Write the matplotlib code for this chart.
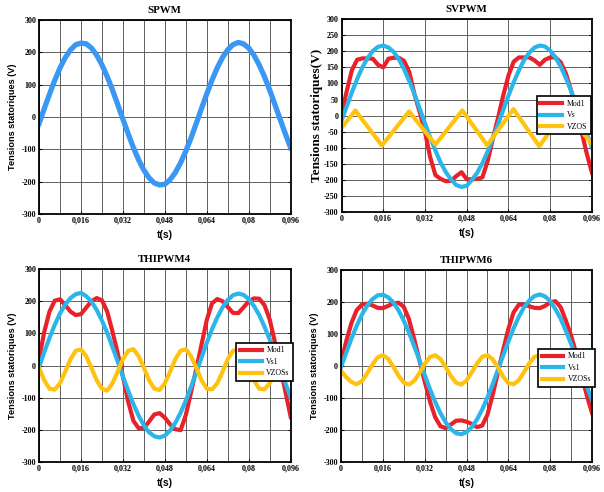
import matplotlib
matplotlib.use("Agg")
import matplotlib.pyplot as plt
import numpy as np
from matplotlib.ticker import MultipleLocator

plt.rcParams["axes.unicode_minus"] = False

# sample instants (ms)
t_ms = [0, 2, 4, 6, 8, 10, 12, 14, 16, 18, 20, 22, 24, 26, 28, 30, 32, 34, 36, 38,
        40, 42, 44, 46, 48, 50, 52, 54, 56, 58, 60, 62, 64, 66, 68, 70, 72, 74, 76, 78,
        80, 82, 84, 86, 88, 90, 92, 94, 96]

# --- SPWM ---
spwm_v = [-20, 26, 71, 114, 152, 184, 208, 224, 229, 227, 214, 192, 162, 126, 85, 40,
          -6, -51, -94, -132, -164, -188, -204, -210, -208, -194, -172, -142, -106, -65,
          -20, 26, 71, 114, 152, 184, 208, 224, 231, 227, 214, 192, 162, 126, 85, 40,
          -6, -51, -94]

# --- SVPWM ---
svpwm_mod1 = [5, 76, 142, 174, 178, 178, 177, 158, 150, 177, 180, 180, 170, 135, 65, 10,
              -51, -130, -185, -197, -204, -203, -188, -176, -198, -198, -197, -192, -142,
              -72, -7, 63, 125, 168, 181, 181, 181, 172, 158, 174, 181, 181, 166, 131, 78,
              20, -50, -118, -178]
svpwm_vs = [-16, 29, 73, 114, 150, 179, 201, 214, 218, 212, 198, 175, 144, 107, 66, 21,
            -24, -68, -109, -146, -176, -199, -216, -222, -218, -200, -178, -148, -112,
            -71, -27, 18, 62, 104, 141, 173, 196, 212, 218, 215, 202, 181, 153, 117, 77,
            34, -11, -56, -99]
# zero-sequence voltage, given at its corners
svpwm_zs_t = [0, 5.3, 15.5, 25.9, 36.0, 46.3, 55.8, 65.9, 75.8, 85.8, 96]
svpwm_zs = [-38, 16, -93, 13, -90, 16, -92, 20, -95, 18, -90]

# --- THIPWM4 ---
thi4_mod1 = [20, 105, 168, 202, 206, 188, 168, 157, 160, 180, 200, 210, 203, 168, 106, 39,
             -34, -112, -172, -195, -194, -174, -152, -148, -162, -183, -198, -201, -154,
             -82, -10, 66, 142, 194, 207, 200, 182, 164, 163, 181, 200, 209, 208, 188, 143,
             72, -3, -82, -160]
thi4_vs1 = [-5, 42, 86, 127, 162, 190, 210, 222, 226, 216, 199, 173, 140, 102, 58, 13,
            -34, -78, -120, -156, -186, -208, -220, -224, -218, -202, -178, -147, -109,
            -66, -21, 25, 71, 113, 150, 181, 204, 219, 224, 220, 207, 185, 157, 121, 81,
            37, -9, -55, -99]
thi4_zs = [-7, -46, -72, -75, -55, -19, 20, 46, 50, 29, -7, -46, -72, -78, -55, -19, 20,
           46, 51, 29, -7, -46, -72, -76, -55, -19, 20, 46, 51, 29, -7, -46, -72, -74, -55,
           -19, 20, 46, 49, 29, -7, -46, -72, -74, -55, -19, 20, 46, 49]

# --- THIPWM6 ---
thi6_mod1 = [7, 78, 135, 175, 192, 195, 190, 182, 181, 188, 196, 198, 185, 146, 84, 17,
             -48, -110, -160, -188, -194, -183, -171, -170, -174, -181, -191, -186, -152,
             -90, -20, 50, 116, 168, 192, 192, 187, 182, 181, 188, 199, 203, 184, 142, 95,
             38, -28, -92, -147]
thi6_vs1 = [-3, 42, 86, 126, 161, 189, 209, 221, 223, 215, 199, 174, 142, 104, 62, 18,
            -28, -72, -112, -147, -176, -197, -210, -213, -207, -191, -167, -136, -98, -57,
            -12, 33, 77, 118, 154, 184, 205, 219, 224, 218, 203, 178, 148, 110, 69, 24,
            -21, -65, -105]
thi6_zs = [-15, -35, -50, -57, -47, -23, 5, 27, 34, 23, -2, -30, -52, -58, -46, -22, 7, 28,
           34, 22, -3, -31, -52, -58, -45, -20, 8, 29, 34, 21, -4, -33, -53, -57, -44, -19,
           9, 29, 33, 20, -6, -34, -54, -57, -43, -17, 11, 30, 33]

x_ticks = [0, 0.016, 0.032, 0.048, 0.064, 0.08, 0.096]
x_tick_labels = ["0", "0,016", "0,032", "0,048", "0,064", "0,08", "0,096"]

RED = "#e8212b"
CYAN = "#2bb6e9"
BLUE = "#3a97f3"
YELLOW = "#ffc30f"
GRID = "#5f5f5f"

SERIF = "Liberation Serif"
SANS = "Liberation Sans"
LW = 3.0


def setup_axes(ax, title, ystep, ylabel, minor_x=True, serif_label=False):
    ax.set_xlim(0, 0.096)
    ax.set_ylim(-300, 300)
    ax.set_xticks(x_ticks)
    ax.set_xticklabels(x_tick_labels)
    yt = np.arange(-300, 301, ystep)
    ax.set_yticks(yt)
    ax.set_yticklabels([str(int(v)) for v in yt])
    if minor_x:
        ax.xaxis.set_minor_locator(MultipleLocator(0.008))
        ax.grid(True, which="minor", axis="x", color=GRID, lw=0.7)
    ax.grid(True, which="major", color=GRID, lw=0.7)
    ax.set_axisbelow(True)
    ax.tick_params(which="both", direction="in", length=2, width=0.8,
                   top=False, right=True, pad=2)
    ax.tick_params(which="minor", length=0)
    for lab in ax.get_xticklabels() + ax.get_yticklabels():
        lab.set_family(SERIF)
        lab.set_fontweight("bold")
        lab.set_fontsize(5.8)
    for sp in ax.spines.values():
        sp.set_linewidth(1.3)
    ax.set_title(title, family=SERIF, fontweight="bold", fontsize=7.8, pad=5)
    ax.set_xlabel("t(s)", family=SANS, fontweight="bold", fontsize=7.5, labelpad=4)
    if serif_label:
        ax.set_ylabel(ylabel, family=SERIF, fontweight="bold", fontsize=9.5, labelpad=1)
    else:
        ax.set_ylabel(ylabel, family=SANS, fontweight="bold", fontsize=6.6, labelpad=3)


def add_legend(ax, labels, anchor):
    leg = ax.legend(labels, loc="upper left", bbox_to_anchor=anchor, fancybox=False,
                    framealpha=1, edgecolor="black", prop={"family": SERIF, "size": 5.6},
                    handlelength=2.8, handletextpad=0.6, labelspacing=0.45,
                    borderpad=0.45, borderaxespad=0)
    leg.get_frame().set_linewidth(1.2)


t = np.array(t_ms) / 1000.0
fig = plt.figure(figsize=(6.04, 4.92), dpi=100)

ax1 = fig.add_axes([0.0646, 0.565, 0.4164, 0.394])
ax1.plot(t, spwm_v, color=BLUE, lw=3.8)
setup_axes(ax1, "SPWM", 100, "Tensions statoriques (V)")

ax2 = fig.add_axes([0.5654, 0.569, 0.4147, 0.392])
ax2.plot(t, svpwm_mod1, color=RED, lw=LW)
ax2.plot(t, svpwm_vs, color=CYAN, lw=LW)
ax2.plot(np.array(svpwm_zs_t) / 1000.0, svpwm_zs, color=YELLOW, lw=LW)
setup_axes(ax2, "SVPWM", 50, "Tensions statoriques(V)", minor_x=False, serif_label=True)
add_legend(ax2, ["Mod1", "Vs", "VZOS"], (0.78, 0.60))

ax3 = fig.add_axes([0.0646, 0.061, 0.4167, 0.392])
ax3.plot(t, thi4_mod1, color=RED, lw=LW)
ax3.plot(t, thi4_vs1, color=CYAN, lw=LW)
ax3.plot(t, thi4_zs, color=YELLOW, lw=LW)
setup_axes(ax3, "THIPWM4", 100, "Tensions statoriques (V)")
add_legend(ax3, ["Mod1", "Vs1", "VZOSs"], (0.784, 0.617))

ax4 = fig.add_axes([0.5646, 0.061, 0.4156, 0.390])
ax4.plot(t, thi6_mod1, color=RED, lw=LW)
ax4.plot(t, thi6_vs1, color=CYAN, lw=LW)
ax4.plot(t, thi6_zs, color=YELLOW, lw=LW)
setup_axes(ax4, "THIPWM6", 100, "Tensions statoriques (V)")
add_legend(ax4, ["Mod1", "Vs1", "VZOSs"], (0.785, 0.589))

fig.savefig("out.png", dpi=100)
